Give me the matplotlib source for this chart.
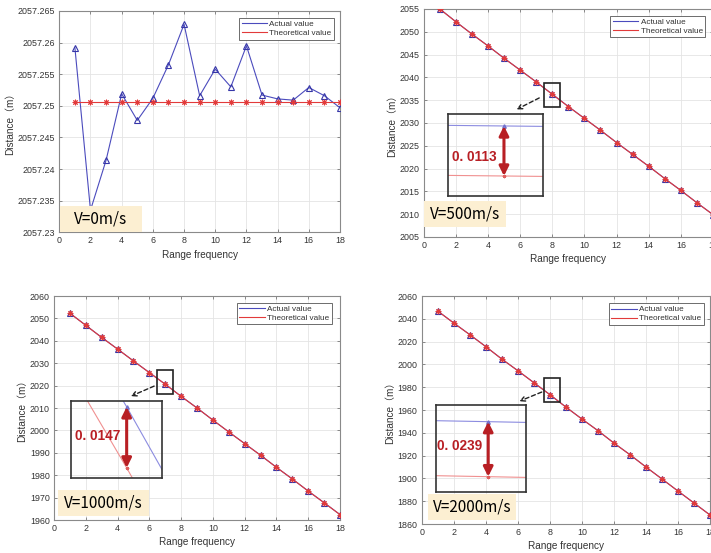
import matplotlib
matplotlib.use("Agg")
import matplotlib.pyplot as plt
from matplotlib.patches import Rectangle, FancyArrowPatch
from matplotlib.lines import Line2D
from matplotlib.ticker import FuncFormatter

FIG_W, FIG_H = 711, 553
DPI = 100

range_freq = list(range(1, 19))
x_ticks = list(range(0, 19, 2))

# V = 0 m/s
actual_v0 = [2057.2592, 2057.2335, 2057.2414, 2057.2519, 2057.2477, 2057.2512,
             2057.2565, 2057.2629, 2057.2516, 2057.2558, 2057.2530, 2057.2595,
             2057.2517, 2057.2511, 2057.2509, 2057.2529, 2057.2516, 2057.2497]
theory_v0 = [2057.2506, 2057.2506, 2057.2506, 2057.2506, 2057.2506, 2057.2506,
             2057.2506, 2057.2506, 2057.2506, 2057.2506, 2057.2506, 2057.2506,
             2057.2506, 2057.2506, 2057.2506, 2057.2506, 2057.2506, 2057.2506]
yticks_v0 = [2057.23, 2057.235, 2057.24, 2057.245, 2057.25, 2057.255, 2057.26, 2057.265]

# V = 500 m/s
theory_v500 = [2055.0, 2052.2, 2049.5, 2046.9, 2044.2, 2041.6, 2039.0, 2036.3, 2033.6,
               2031.0, 2028.4, 2025.7, 2023.1, 2020.5, 2017.8, 2015.2, 2012.5, 2009.9]
actual_v500 = [2055.0113, 2052.2113, 2049.5113, 2046.9113, 2044.2113, 2041.6113,
               2039.0113, 2036.3113, 2033.6113, 2031.0113, 2028.4113, 2025.7113,
               2023.1113, 2020.5113, 2017.8113, 2015.2113, 2012.5113, 2009.9113]
yticks_v500 = [2005, 2010, 2015, 2020, 2025, 2030, 2035, 2040, 2045, 2050, 2055]

# V = 1000 m/s
theory_v1000 = [2052.3, 2046.9, 2041.5, 2036.3, 2031.0, 2025.8, 2020.6, 2015.2, 2010.0,
                2004.6, 1999.3, 1994.1, 1988.9, 1983.5, 1978.3, 1972.9, 1967.7, 1962.4]
actual_v1000 = [2052.3147, 2046.9147, 2041.5147, 2036.3147, 2031.0147, 2025.8147,
                2020.6147, 2015.2147, 2010.0147, 2004.6147, 1999.3147, 1994.1147,
                1988.9147, 1983.5147, 1978.3147, 1972.9147, 1967.7147, 1962.4147]
yticks_v1000 = [1960, 1970, 1980, 1990, 2000, 2010, 2020, 2030, 2040, 2050, 2060]

# V = 2000 m/s
theory_v2000 = [2046.8, 2036.3, 2026.1, 2015.6, 2004.7, 1994.5, 1984.0, 1973.5, 1962.6,
                1952.1, 1941.9, 1931.0, 1920.8, 1910.0, 1899.5, 1888.9, 1878.4, 1867.9]
actual_v2000 = [2046.8239, 2036.3239, 2026.1239, 2015.6239, 2004.7239, 1994.5239,
                1984.0239, 1973.5239, 1962.6239, 1952.1239, 1941.9239, 1931.0239,
                1920.8239, 1910.0239, 1899.5239, 1888.9239, 1878.4239, 1867.9239]
yticks_v2000 = [1860, 1880, 1900, 1920, 1940, 1960, 1980, 2000, 2020, 2040, 2060]

speed_labels = ["V=0m/s", "V=500m/s", "V=1000m/s", "V=2000m/s"]
gap_labels = ["0. 0113", "0. 0147", "0. 0239"]
legend_labels = ["Actual value", "Theoretical value"]

BLUE = "#4b4bbd"
RED = "#e23a3a"
DARKRED = "#b81f24"
BOX_FILL = "#fcefd2"
LATIN = ["Liberation Sans", "Noto Sans CJK SC"]
CJK = ["Noto Sans CJK SC", "DejaVu Sans"]
ASTERISK = (8, 2, 0)


def fx(px):
    return px / FIG_W


def fy(py):
    return 1 - py / FIG_H


def rect_px(x0, y0, x1, y1):
    return [fx(x0), fy(y1), (x1 - x0) / FIG_W, (y1 - y0) / FIG_H]


def fmt_tick(v, _):
    return f"{v:.3f}".rstrip("0").rstrip(".")


fig = plt.figure(figsize=(FIG_W / DPI, FIG_H / DPI), dpi=DPI)
fig.patch.set_facecolor("white")


def make_panel(box, actual, theory, yticks, legend_pos):
    ax = fig.add_axes(rect_px(*box))
    ax.plot(range_freq, actual, color=BLUE, lw=0.8, marker="^", ms=4.6,
            mfc="none", mec="#3636a8", mew=0.8, zorder=3)
    ax.plot(range_freq, theory, color=RED, lw=0.8, marker=ASTERISK, ms=4.0,
            mec=RED, mfc=RED, mew=0.7, zorder=3)
    ax.set_xlim(0, 18)
    ax.set_xticks(x_ticks)
    ax.set_ylim(yticks[0], yticks[-1])
    ax.set_yticks(yticks)
    ax.yaxis.set_major_formatter(FuncFormatter(fmt_tick))
    ax.grid(True, color="#e4e4e4", lw=0.6)
    ax.set_axisbelow(True)
    ax.tick_params(direction="in", length=2.5, width=0.6, top=True, right=True,
                   labelsize=6.4, labelcolor="#333333", color="#777777", pad=3)
    for lab in ax.get_xticklabels() + ax.get_yticklabels():
        lab.set_fontfamily(LATIN)
    for sp in ax.spines.values():
        sp.set_color("#8a8a8a")
        sp.set_linewidth(0.8)
    ax.set_xlabel("Range frequency", fontsize=7.2, color="#333333", family=LATIN, labelpad=3)
    ax.set_ylabel("Distance（m）", fontsize=7.2, color="#333333", family=LATIN, labelpad=2)
    handles = [Line2D([], [], color=BLUE, lw=0.8), Line2D([], [], color=RED, lw=0.8)]
    ax_w = box[2] - box[0]
    ax_h = box[3] - box[1]
    anchor = ((legend_pos[0] - box[0]) / ax_w, 1 - (legend_pos[1] - box[1]) / ax_h)
    leg = ax.legend(handles, legend_labels, loc="upper right", bbox_to_anchor=anchor,
                    borderaxespad=0, frameon=True, fancybox=False,
                    framealpha=1, edgecolor="#555555", handlelength=3.1,
                    handletextpad=0.3, borderpad=0.3, labelspacing=0.15,
                    prop={"family": LATIN, "size": 5.9})
    leg.get_frame().set_linewidth(0.6)
    for t in leg.get_texts():
        t.set_color("#333333")
    return ax


def speed_box(x0, y0, x1, y1, text):
    fig.add_artist(Rectangle((fx(x0), fy(y1)), (x1 - x0) / FIG_W, (y1 - y0) / FIG_H,
                             transform=fig.transFigure, facecolor=BOX_FILL,
                             edgecolor="none", zorder=5))
    fig.text(fx((x0 + x1) / 2), fy((y0 + y1) / 2), text, ha="center", va="center",
             fontsize=11, color="black", family=CJK, zorder=6)


def zoom_inset(ax, box, actual, theory, k, fx_mark, fy_blue, fy_red, width,
               focus_rect, arrow_from, arrow_to, gap_text, text_pos):
    x0, y0, x1, y1 = focus_rect
    ax.add_patch(Rectangle((x0, y0), x1 - x0, y1 - y0, fill=False, ec="#222222",
                           lw=1.2, zorder=6))
    fig.add_artist(FancyArrowPatch((fx(arrow_from[0]), fy(arrow_from[1])),
                                   (fx(arrow_to[0]), fy(arrow_to[1])),
                                   transform=fig.transFigure, arrowstyle="->",
                                   linestyle=(0, (3, 2)), lw=1.0, color="#222222",
                                   mutation_scale=8, zorder=6))
    ins = fig.add_axes(rect_px(*box))
    ins.set_facecolor("none")
    xk = range_freq[k]
    gap = actual[k] - theory[k]
    span = gap / (fy_blue - fy_red)
    ins.plot(range_freq, actual, color="#8c8ce0", lw=0.8, marker="^", ms=2.5,
             mfc="#8c8ce0", mec="#7070cc")
    ins.plot(range_freq, theory, color="#f09090", lw=0.8, marker=ASTERISK, ms=2.5,
             mfc="#e06060", mec="#e06060", mew=0.6)
    ins.set_xlim(xk - fx_mark * width, xk + (1 - fx_mark) * width)
    ins.set_ylim(theory[k] - fy_red * span, theory[k] + (1 - fy_red) * span)
    ins.set_xticks([])
    ins.set_yticks([])
    for sp in ins.spines.values():
        sp.set_color("#333333")
        sp.set_linewidth(1.2)
    ins.annotate("", xy=(xk, actual[k]), xytext=(xk, theory[k]),
                 arrowprops=dict(arrowstyle="<|-|>", color=DARKRED, lw=2.2,
                                 mutation_scale=14, shrinkA=0, shrinkB=0))
    ins.text(text_pos[0], text_pos[1], gap_text, transform=ins.transAxes,
             ha="left", va="center", fontsize=9.8, fontweight="bold",
             color=DARKRED, family=LATIN)
    return ins


# top-left: V = 0
ax1 = make_panel((59.3, 11, 340, 232.3), actual_v0, theory_v0, yticks_v0, (334, 18))
speed_box(60, 205.7, 141.7, 232.3, speed_labels[0])

# top-right: V = 500
ax2 = make_panel((423.7, 9, 713, 237), actual_v500, theory_v500, yticks_v500, (705.3, 15.7))
speed_box(424, 201, 505.7, 227.3, speed_labels[1])
zoom_inset(ax2, (448.3, 114, 543.3, 196), actual_v500, theory_v500, 7,
           0.586, 0.854, 0.244, 8.5e-5, (7.47, 2033.5, 8.48, 2038.8),
           (541.7, 96.7), (514, 110.7), gap_labels[0], (0.04, 0.48))

# bottom-left: V = 1000
ax3 = make_panel((54, 296, 340, 520), actual_v1000, theory_v1000, yticks_v1000, (331.7, 302.7))
speed_box(58.3, 490, 149.3, 516, speed_labels[2])
zoom_inset(ax3, (70.7, 401, 161.7, 478.3), actual_v1000, theory_v1000, 6,
           0.615, 0.924, 0.135, 0.0072, (6.46, 2016.2, 7.51, 2027.0),
           (156.7, 385), (128.3, 397.3), gap_labels[1], (0.05, 0.547))

# bottom-right: V = 2000
ax4 = make_panel((421.7, 296, 710, 524), actual_v2000, theory_v2000, yticks_v2000, (703.7, 303.3))
speed_box(428.3, 494.3, 516.3, 520, speed_labels[3])
zoom_inset(ax4, (436, 405, 526, 492.3), actual_v2000, theory_v2000, 7,
           0.58, 0.809, 0.179, 7.0e-5, (7.64, 1967.0, 8.66, 1988.1),
           (544.3, 391), (516.7, 402.3), gap_labels[2], (0.012, 0.53))

fig.savefig("out.png", dpi=DPI)
